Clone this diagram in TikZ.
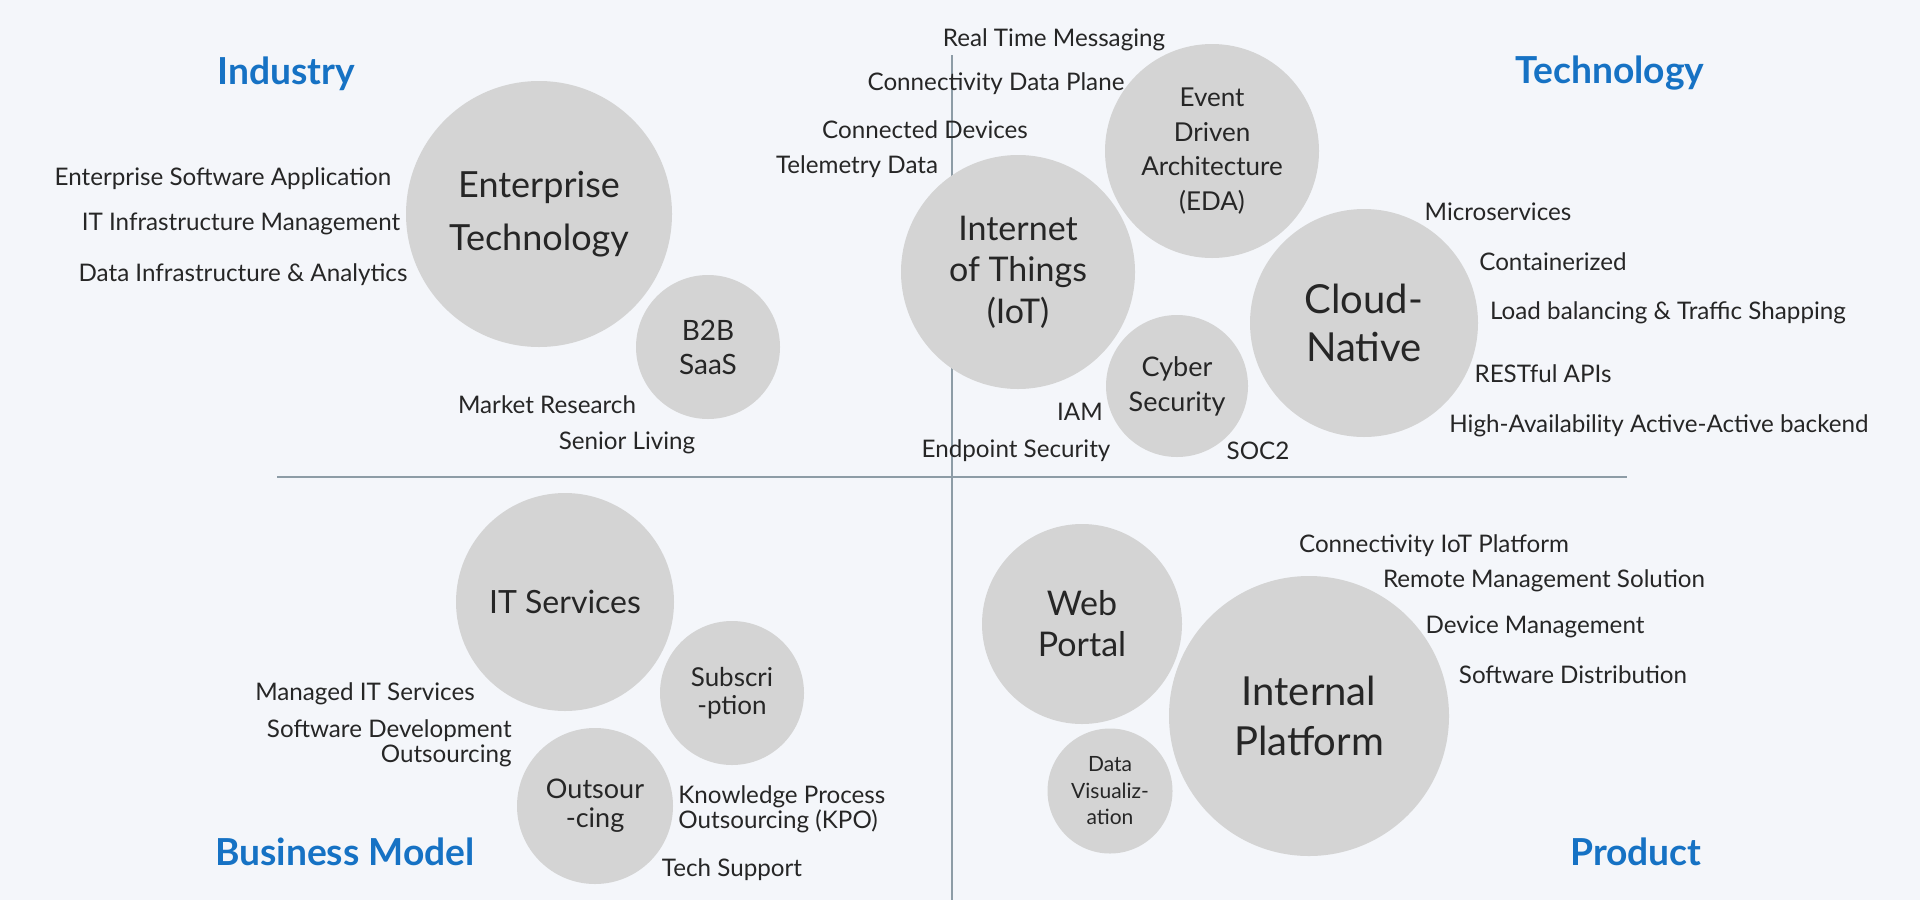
\documentclass[tikz,border=0pt]{standalone}
\usepackage{fontspec}
\setmainfont{Lato}
\definecolor{bg}{HTML}{F4F6FA}
\definecolor{bubblegray}{HTML}{D4D4D4}
\definecolor{inkgray}{HTML}{262626}
\definecolor{headblue}{HTML}{1672C4}
\definecolor{axisgray}{HTML}{8D9CA6}
\newcommand{\fsz}[2]{\fontsize{#1}{#2}\selectfont}

\begin{document}
\begin{tikzpicture}[x=0.5pt,y=-0.5pt,
  bubble/.style={circle,fill=bubblegray,inner sep=0pt,align=center,text=inkgray},
  tag/.style={text=inkgray,font=\fsz{12.1}{12.5},inner sep=0pt,yshift=-1.2pt},
  head/.style={text=headblue,font=\fsz{18.6}{20}\bfseries,inner sep=0pt,yshift=-1.2pt}]

\fill[bg] (0,0) rectangle (1920,900);
\useasboundingbox (0,0) rectangle (1920,900);

% axes
\coordinate (hl) at (277,477);
\coordinate (hr) at (1627,477);
\coordinate (vt) at (952,55);
\coordinate (vb) at (952,900);
\draw[axisgray,line width=0.75pt] (hl) -- (hr);
\draw[axisgray,line width=0.75pt] (vt) -- (vb);

% quadrant titles
\node[head] (industry) at (286,71) {Industry};
\node[head] (technology) at (1610,71) {Technology};
\node[head] (business) at (345,849) {Business Model};
\node[head] (product) at (1636,849) {Product};

% Industry
\node[bubble,minimum size=133pt,font=\fsz{18}{26.5}] (ent) at (539,214) {Enterprise\\Technology};
\node[bubble,minimum size=72pt,font=\fsz{14}{17}] (b2b) at (708,347) {B2B\\SaaS};

\node[tag] (esa) at (223,176) {Enterprise Software Application};
\node[tag] (itm) at (241,222) {IT Infrastructure Management};
\node[tag] (dia) at (243,272) {Data Infrastructure \& Analytics};
\node[tag] (mkr) at (547,402) {Market Research};
\node[tag] (snl) at (627,440) {Senior Living};

% Technology
\node[bubble,minimum size=117pt,font=\fsz{17}{20.75}] (iot) at (1018,272) {Internet\\of Things\\(IoT)};
\node[bubble,minimum size=107pt,font=\fsz{13}{17.3}] (eda) at (1212,151) {Event\\Driven\\Architecture\\(EDA)};
\node[bubble,minimum size=114pt,font=\fsz{20}{24}] (cloud) at (1364,323) {Cloud-\\Native};
\node[bubble,minimum size=71pt,font=\fsz{13.5}{17.5}] (cyber) at (1177,386) {Cyber\\Security};

\node[tag] (rtm) at (1054,37) {Real Time Messaging};
\node[tag] (cdp) at (996,81) {Connectivity Data Plane};
\node[tag] (cdv) at (925,127) {Connected Devices};
\node[tag] (tel) at (857,164) {Telemetry Data};
\node[tag] (mic) at (1498,209) {Microservices};
\node[tag] (con) at (1553,259) {Containerized};
\node[tag] (lbt) at (1668,310) {Load balancing \& Traffic Shapping};
\node[tag] (rest) at (1543,371) {RESTful APIs};
\node[tag] (haa) at (1659,423) {High-Availability Active-Active backend};
\node[tag] (iam) at (1080,409) {IAM};
\node[tag] (eps) at (1016,448) {Endpoint Security};
\node[tag] (soc) at (1258,448) {SOC2};

% Business Model
\node[bubble,minimum size=109pt,font=\fsz{16}{18}] (its) at (565,602) {IT Services};
\node[bubble,minimum size=72pt,font=\fsz{13}{14}] (sub) at (732,693) {Subscri\\-ption};
\node[bubble,minimum size=78pt,font=\fsz{13.5}{14.5}] (outs) at (595,806) {Outsour\\-cing};

\node[tag] (mit) at (365,691) {Managed IT Services};
\node[tag,align=right,anchor=east] (sdo) at (512,741) {Software Development\\Outsourcing};
\node[tag,align=left,anchor=west] (kpo) at (678,807) {Knowledge Process\\Outsourcing (KPO)};
\node[tag] (tsp) at (732,867) {Tech Support};

% Product
\node[bubble,minimum size=100pt,font=\fsz{17}{20.5}] (web) at (1082,624) {Web\\Portal};
\node[bubble,minimum size=140pt,font=\fsz{20}{25}] (ipf) at (1309,716) {Internal\\Platform};
\node[bubble,minimum size=62.5pt,font=\fsz{10.5}{13.25}] (dvz) at (1110,791) {Data\\Visualiz-\\ation};

\node[tag] (cip) at (1434,543) {Connectivity IoT Platform};
\node[tag] (rms) at (1544,578) {Remote Management Solution};
\node[tag] (dvm) at (1535,624) {Device Management};
\node[tag] (swd) at (1573,672) {Software Distribution};
\end{tikzpicture}
\end{document}
